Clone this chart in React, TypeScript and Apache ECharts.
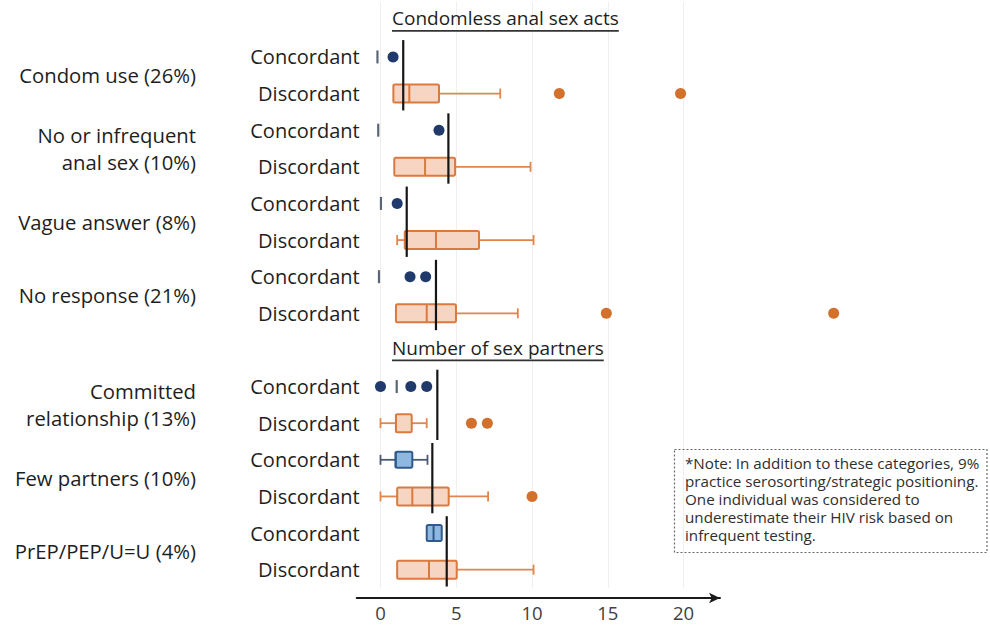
import React, { useEffect, useRef } from "react";
import * as echarts from "echarts";

// ---- data ----
const rowLabels = [
  "", "Concordant", "Discordant", "Concordant", "Discordant", "Concordant", "Discordant", "Concordant", "Discordant",
  "", "Concordant", "Discordant", "Concordant", "Discordant", "Concordant", "Discordant",
];
const sectionTitles = ["Condomless anal sex acts", "Number of sex partners"];
const sectionTitleRows = [0, 9];
const groupLabels = [
  "Condom use (26%)",
  "No or infrequent\nanal sex (10%)",
  "Vague answer (8%)",
  "No response (21%)",
  "Committed\nrelationship (13%)",
  "Few partners (10%)",
  "PrEP/PEP/U=U (4%)",
];
const groupRows = [1, 3, 5, 7, 10, 12, 14];
const groupMeans = [1.5, 4.48, 1.73, 3.66, 3.75, 3.42, 4.37];

// [row, min, q1, median, q3, max]
const discordantBoxes = [
  [2, 0.85, 0.85, 1.9, 3.86, 7.9],
  [4, 0.91, 0.91, 2.94, 4.92, 9.9],
  [6, 1.1, 1.6, 3.66, 6.5, 10.1],
  [8, 1.02, 1.02, 3.05, 4.98, 9.06],
  [11, 0, 1.02, 1.02, 2.06, 3.05],
  [13, 0, 1.1, 2.1, 4.5, 7.1],
  [15, 1.1, 1.1, 3.2, 5.03, 10.1],
];
const concordantBoxes = [
  [1, -0.2, -0.2, -0.2, -0.2, -0.2],
  [3, -0.15, -0.15, -0.15, -0.15, -0.15],
  [5, 0.03, 0.03, 0.03, 0.03, 0.03],
  [7, -0.1, -0.1, -0.1, -0.1, -0.1],
  [10, 1.07, 1.07, 1.07, 1.07, 1.07],
  [12, 0, 1.0, 1.0, 2.1, 3.1],
  [14, 3.05, 3.05, 3.5, 4.04, 4.04],
];
// [value, row]
const concordantPoints = [
  [0.83, 1], [3.86, 3], [1.1, 5], [1.95, 7], [2.98, 7], [0.0, 10], [2.0, 10], [3.05, 10],
];
const discordantOutliers = [
  [11.8, 2], [19.8, 2], [14.9, 8], [29.9, 8], [6.0, 11], [7.05, 11], [10.0, 13],
];
const xTicks = [0, 5, 10, 15, 20];
const noteLines = [
  "*Note: In addition to these categories, 9%",
  "practice serosorting/strategic positioning.",
  "One individual was considered to",
  "underestimate their HIV risk based on",
  "infrequent testing.",
];

const FONT = "'Open Sans', 'Noto Sans', sans-serif";
const TITLE_SIZE = 19;

function boxRenderer(c: { stroke: string; fill: string; whisker: string; tick: string; half: number }) {
  return (params: any, api: any) => {
    const row = api.value(0);
    const mn = api.value(1), q1 = api.value(2), md = api.value(3), q3 = api.value(4), mx = api.value(5);
    const pMin = api.coord([mn, row]);
    const pQ1 = api.coord([q1, row]);
    const pMd = api.coord([md, row]);
    const pQ3 = api.coord([q3, row]);
    const pMax = api.coord([mx, row]);
    const cy = pMd[1];
    const children: any[] = [];
    if (q3 - q1 < 1e-6) {
      children.push({
        type: "line",
        shape: { x1: pMd[0], y1: cy - 6.5, x2: pMd[0], y2: cy + 6.5 },
        style: { stroke: c.tick, lineWidth: 2.2 },
      });
      return { type: "group", children };
    }
    const cap = 5;
    if (mn < q1) {
      children.push({ type: "line", shape: { x1: pMin[0], y1: cy, x2: pQ1[0], y2: cy }, style: { stroke: c.whisker, lineWidth: 1.8 } });
      children.push({ type: "line", shape: { x1: pMin[0], y1: cy - cap, x2: pMin[0], y2: cy + cap }, style: { stroke: c.whisker, lineWidth: 1.8 } });
    }
    if (mx > q3) {
      children.push({ type: "line", shape: { x1: pQ3[0], y1: cy, x2: pMax[0], y2: cy }, style: { stroke: c.whisker, lineWidth: 1.8 } });
      children.push({ type: "line", shape: { x1: pMax[0], y1: cy - cap, x2: pMax[0], y2: cy + cap }, style: { stroke: c.whisker, lineWidth: 1.8 } });
    }
    children.push({
      type: "rect",
      shape: { x: pQ1[0], y: cy - c.half, width: pQ3[0] - pQ1[0], height: c.half * 2, r: 1.5 },
      style: { fill: c.fill, stroke: c.stroke, lineWidth: 2 },
    });
    children.push({
      type: "line",
      shape: { x1: pMd[0], y1: cy - c.half, x2: pMd[0], y2: cy + c.half },
      style: { stroke: c.stroke, lineWidth: 2 },
    });
    return { type: "group", children };
  };
}

export default function App() {
  const ref = useRef<HTMLDivElement>(null);
  useEffect(() => {
    if (!ref.current) return;
    const chart = echarts.init(ref.current, undefined, { renderer: "svg" });
    const option: any = {
      animation: false,
      backgroundColor: "#ffffff",
      grid: { left: 356.7, right: 270, top: 2, bottom: 38, containLabel: false },
      xAxis: {
        type: "value",
        min: -1.57,
        max: 22.4,
        offset: 10,
        axisLine: { show: true, lineStyle: { color: "#1a1a1a", width: 2 }, symbol: ["none", "arrow"], symbolSize: [8, 11] },
        axisTick: { show: false, customValues: xTicks },
        axisLabel: { customValues: xTicks, fontSize: 18.5, color: "#404040", fontFamily: FONT, margin: 5 },
        splitLine: { show: true, lineStyle: { color: "#f3eeec", width: 1 } },
      },
      yAxis: {
        type: "category",
        inverse: true,
        data: rowLabels,
        axisLine: { show: false },
        axisTick: { show: false },
        splitLine: { show: false },
        axisLabel: { fontSize: 20, color: "#1e1e1e", fontFamily: FONT, margin: -3 },
      },
      series: [
        {
          type: "custom",
          name: "Mean",
          clip: false,
          data: groupMeans.map((m, i) => [m, groupRows[i]]),
          encode: { x: 0, y: 1 },
          renderItem: (params: any, api: any) => {
            const row = api.value(1);
            const p = api.coord([api.value(0), row]);
            const band = api.size([0, 1])[1];
            return {
              type: "line",
              shape: { x1: p[0], y1: p[1] - 0.46 * band, x2: p[0], y2: p[1] + 1.46 * band },
              style: { stroke: "#151515", lineWidth: 2.2 },
              z2: 10,
            };
          },
          z: 5,
        },
        {
          type: "custom",
          name: "Discordant boxes",
          clip: false,
          data: discordantBoxes,
          encode: { x: [1, 2, 3, 4, 5], y: 0 },
          renderItem: boxRenderer({ stroke: "#da7a3e", fill: "#f6d5c2", whisker: "#e0864d", tick: "#44546a", half: 9 }),
          z: 3,
        },
        {
          type: "custom",
          name: "Concordant boxes",
          clip: false,
          data: concordantBoxes,
          encode: { x: [1, 2, 3, 4, 5], y: 0 },
          renderItem: boxRenderer({ stroke: "#2f5b8a", fill: "#8fb8e0", whisker: "#4a5a70", tick: "#5a6678", half: 8 }),
          z: 3,
        },
        {
          type: "scatter",
          name: "Concordant points",
          clip: false,
          data: concordantPoints,
          symbolSize: 11,
          itemStyle: { color: "#1f3a6b", opacity: 1 },
          z: 4,
        },
        {
          type: "scatter",
          name: "Discordant outliers",
          clip: false,
          data: discordantOutliers,
          symbolSize: 11,
          itemStyle: { color: "#d3702c", opacity: 1 },
          z: 4,
        },
      ],
    };
    chart.setOption(option);

    const graphics: any[] = [];
    sectionTitles.forEach((t, i) => {
      const y = chart.convertToPixel({ yAxisIndex: 0 }, sectionTitleRows[i]) as number;
      graphics.push({
        type: "text",
        x: 392,
        y: y - 2,
        style: { text: t, fontSize: TITLE_SIZE, fontFamily: FONT, fill: "#1e1e1e", align: "left", verticalAlign: "middle" },
      });
      const w = (echarts as any).format.getTextRect
        ? (echarts as any).format.getTextRect(t, `${TITLE_SIZE}px ${FONT}`).width
        : 225;
      graphics.push({
        type: "line",
        shape: { x1: 392, y1: y + 10.5, x2: 392 + w, y2: y + 10.5 },
        style: { stroke: "#333", lineWidth: 1.8 },
      });
    });
    groupLabels.forEach((t, i) => {
      const y1 = chart.convertToPixel({ yAxisIndex: 0 }, groupRows[i]) as number;
      const y2 = chart.convertToPixel({ yAxisIndex: 0 }, groupRows[i] + 1) as number;
      graphics.push({
        type: "text",
        x: 196,
        y: (y1 + y2) / 2,
        style: {
          text: t, fontSize: 20.3, fontFamily: FONT, fill: "#1e1e1e",
          align: "right", verticalAlign: "middle", lineHeight: 27,
        },
      });
    });
    graphics.push({
      type: "rect",
      shape: { x: 674.5, y: 449.5, width: 312.5, height: 103 },
      style: { fill: "none", stroke: "#666", lineWidth: 1.2, lineDash: [2, 2] },
    });
    noteLines.forEach((t, i) => {
      graphics.push({
        type: "text",
        x: 685,
        y: 462.5 + i * 18.2,
        style: { text: t, fontSize: 15.2, fontFamily: FONT, fill: "#2e2e2e", align: "left", verticalAlign: "middle" },
      });
    });
    chart.setOption({ graphic: graphics });

    return () => chart.dispose();
  }, []);
  return <div ref={ref} style={{ position: "fixed", left: 0, top: 0, width: 990, height: 626 }} />;
}
